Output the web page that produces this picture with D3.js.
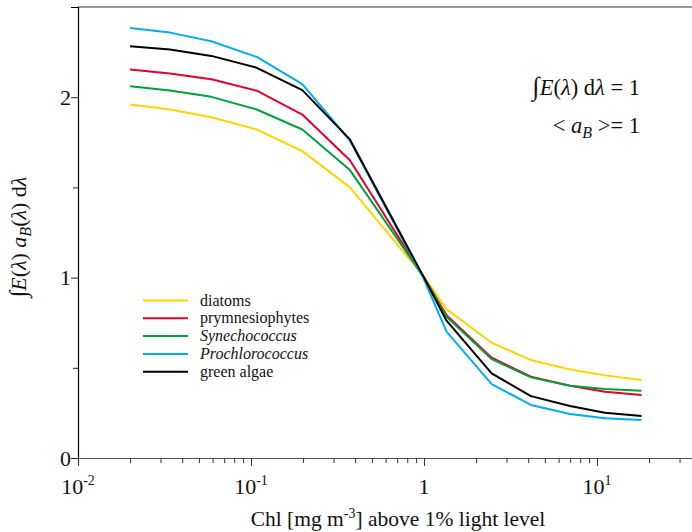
<!DOCTYPE html>
<html><head><meta charset="utf-8">
<script src="https://cdn.jsdelivr.net/npm/d3@7"></script>
<style>body{margin:0;background:#fff}svg{display:block}</style>
</head><body>
<svg id="c" width="692" height="532" font-family="'Liberation Serif', Tinos, 'Times New Roman', Times, 'Nimbus Roman', 'DejaVu Serif', serif"></svg>
<script>
const chl = [0.02, 0.034, 0.059, 0.108, 0.198, 0.373, 1.0, 1.35, 2.46, 4.15, 6.98, 11.1, 18.1];
const diatoms = [1.960, 1.932, 1.889, 1.821, 1.701, 1.500, 1.005, 0.825, 0.639, 0.543, 0.491, 0.458, 0.432];
const prymnesiophytes = [2.153, 2.131, 2.100, 2.036, 1.904, 1.651, 1.000, 0.792, 0.556, 0.451, 0.401, 0.367, 0.349];
const synechococcus = [2.061, 2.037, 2.002, 1.932, 1.821, 1.596, 1.000, 0.783, 0.548, 0.447, 0.401, 0.382, 0.373];
const prochlorococcus = [2.384, 2.358, 2.310, 2.223, 2.072, 1.760, 0.990, 0.700, 0.410, 0.294, 0.244, 0.220, 0.211];
const greenAlgae = [2.283, 2.264, 2.229, 2.163, 2.039, 1.766, 1.000, 0.761, 0.469, 0.343, 0.288, 0.251, 0.233];
const seriesNames = ["diatoms", "prymnesiophytes", "Synechococcus", "Prochlorococcus", "green algae"];
const seriesItalic = [false, false, true, true, false];
const seriesColors = ["#FFD400", "#E4002B", "#00A13A", "#00AEEF", "#000000"];
const yTicks = [0, 0.5, 1, 1.5, 2];
const yTickLabels = ["0", "", "1", "", "2"];
const xMajor = [0.01, 0.1, 1, 10];
const xMajorLabels = [["10","-2"], ["10","-1"], ["1",""], ["10","1"]];

const allSeries = [diatoms, prymnesiophytes, synechococcus, prochlorococcus, greenAlgae];
const svg = d3.select("#c");
const mLeft = 78, mTop = 7, mBottom = 458, decade = 173;
const x = d3.scaleLog().domain([0.01, 40]).range([mLeft, mLeft + decade * Math.log10(4000)]);
const y = d3.scaleLinear().domain([0, 2.5]).range([mBottom, mTop]);

// top frame line
svg.append("line").attr("x1", mLeft).attr("x2", 692).attr("y1", mTop).attr("y2", mTop)
  .attr("stroke", "#777").attr("stroke-width", 1.5);

// minor x ticks
const xMinor = [];
for (let e = -2; e <= 1; e++) for (let m = 1; m <= 9; m++) { const v = m * Math.pow(10, e); if (v <= 40) xMinor.push(v); }
const xAxis = svg.append("g").attr("transform", `translate(0,${mBottom})`)
  .call(d3.axisBottom(x).tickValues(xMinor).tickFormat("").tickSizeOuter(0).tickSize(5));
xAxis.attr("font-family", null);
xAxis.select(".domain").attr("stroke", "#555").attr("stroke-width", 1.2);
xAxis.selectAll(".tick line").attr("stroke", "#333")
  .attr("y2", d => xMajor.some(v => Math.abs(v - d) < 1e-9) ? 8 : 5);

// x tick labels
xMajor.forEach((v, i) => {
  const t = svg.append("text").attr("x", x(v)).attr("y", 494).attr("text-anchor", "middle")
    .attr("font-size", 22).attr("fill", "#111");
  t.append("tspan").text(xMajorLabels[i][0]);
  if (xMajorLabels[i][1]) t.append("tspan").attr("dy", -9).attr("font-size", 14).text(xMajorLabels[i][1]);
});

// y axis
const yAxis = svg.append("g").attr("transform", `translate(${mLeft},0)`)
  .call(d3.axisLeft(y).tickValues(yTicks).tickFormat("").tickSizeOuter(0).tickSize(7));
yAxis.attr("font-family", null);
yAxis.select(".domain").attr("stroke", "#000").attr("stroke-width", 1.2);
yAxis.selectAll(".tick line").attr("stroke", "#222").attr("x2", (d, i) => yTickLabels[i] ? -7 : -5);
yTicks.forEach((v, i) => {
  if (!yTickLabels[i]) return;
  svg.append("text").attr("x", 71).attr("y", y(v) + 7.5).attr("text-anchor", "end")
    .attr("font-size", 22).attr("fill", "#111").text(yTickLabels[i]);
});

// lines
const line = d3.line().x((d, i) => x(chl[i])).y(d => y(d));
allSeries.forEach((s, k) => {
  svg.append("path").datum(s).attr("d", line).attr("fill", "none")
    .attr("stroke", seriesColors[k]).attr("stroke-width", 2).attr("stroke-linejoin", "round");
});

// legend
seriesNames.forEach((n, k) => {
  const yy = 300.5 + k * 17.8;
  svg.append("line").attr("x1", 143).attr("x2", 188).attr("y1", yy).attr("y2", yy)
    .attr("stroke", seriesColors[k]).attr("stroke-width", 2);
  svg.append("text").attr("x", 200).attr("y", yy + 5).attr("font-size", 16).attr("fill", "#111")
    .attr("font-style", seriesItalic[k] ? "italic" : "normal").text(n);
});

// annotations
const a1 = svg.append("text").attr("x", 640).attr("y", 95).attr("text-anchor", "end").attr("font-size", 22.5).attr("fill", "#111");
a1.append("tspan").attr("font-size", 26).text("\u222B");
a1.append("tspan").attr("font-style", "italic").text("E");
a1.append("tspan").text("(");
a1.append("tspan").attr("font-style", "italic").text("\u03BB");
a1.append("tspan").text(") d");
a1.append("tspan").attr("font-style", "italic").text("\u03BB");
a1.append("tspan").text(" = 1");

const a2 = svg.append("text").attr("x", 640).attr("y", 133).attr("text-anchor", "end").attr("font-size", 22.5).attr("fill", "#111");
a2.append("tspan").text("< ");
a2.append("tspan").attr("font-style", "italic").text("a");
a2.append("tspan").attr("font-style", "italic").attr("font-size", 16).attr("dy", 5).text("B");
a2.append("tspan").attr("dy", -5).text(" >= 1");

// y label
const yl = svg.append("text").attr("transform", "translate(26,237) rotate(-90)").attr("text-anchor", "middle")
  .attr("font-size", 22).attr("fill", "#111");
yl.append("tspan").attr("font-size", 24).text("\u222B");
yl.append("tspan").attr("font-style", "italic").text("E");
yl.append("tspan").text("(");
yl.append("tspan").attr("font-style", "italic").text("\u03BB");
yl.append("tspan").text(") ");
yl.append("tspan").attr("font-style", "italic").text("a");
yl.append("tspan").attr("font-style", "italic").attr("font-size", 16).attr("dy", 5).text("B");
yl.append("tspan").attr("dy", -5).text("(");
yl.append("tspan").attr("font-style", "italic").text("\u03BB");
yl.append("tspan").text(") d");
yl.append("tspan").attr("font-style", "italic").text("\u03BB");

// x label
const xl = svg.append("text").attr("x", 398).attr("y", 526).attr("text-anchor", "middle").attr("font-size", 21.5).attr("fill", "#111");
xl.append("tspan").text("Chl [mg m");
xl.append("tspan").attr("dy", -8).attr("font-size", 14).text("-3");
xl.append("tspan").attr("dy", 8).text("] above 1% light level");
</script>
</body></html>
